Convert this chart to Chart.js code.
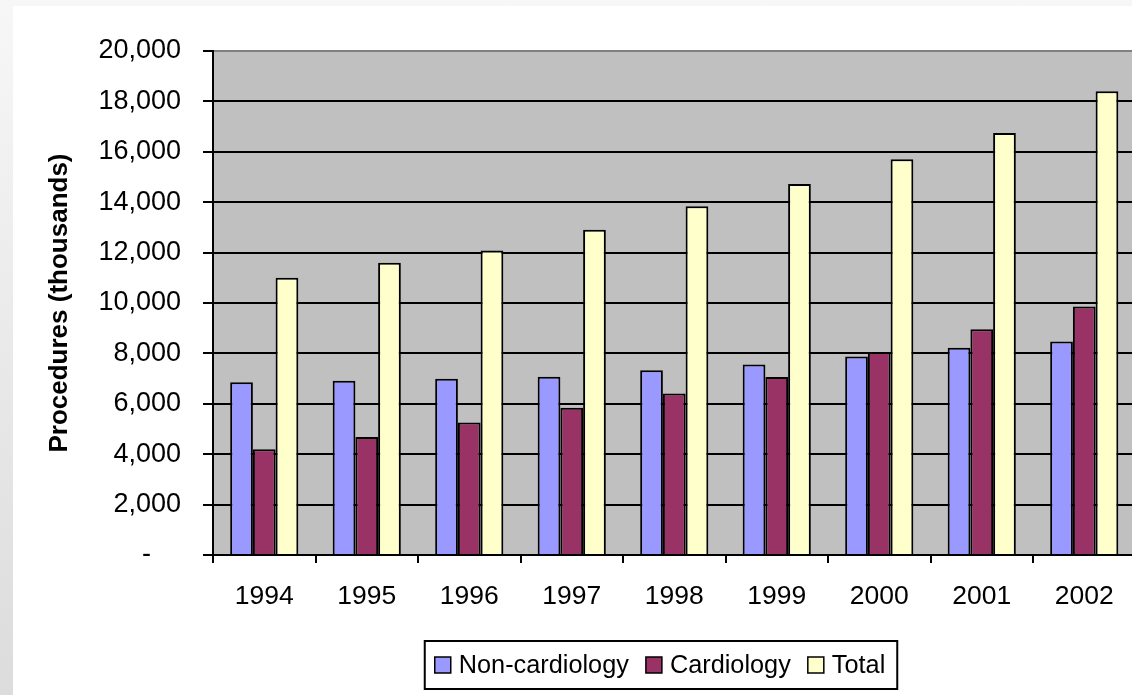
<!DOCTYPE html>
<html>
<head>
<meta charset="utf-8">
<script src="https://cdn.jsdelivr.net/npm/chart.js@4.4.1/dist/chart.umd.min.js"></script>
<style>
  html, body { margin: 0; padding: 0; width: 1132px; height: 695px; overflow: hidden; }
  body { background: linear-gradient(to bottom, #f7f7f7, #dcdcdc); position: relative; }
  #wrap { position: absolute; left: 13px; top: 6px; width: 1130px; height: 689px; background: #fff; }
</style>
</head>
<body>
<div id="wrap"><canvas id="chart" width="1130" height="689"></canvas></div>
<script>
const years = ['1994', '1995', '1996', '1997', '1998', '1999', '2000', '2001', '2002'];
const nonCardiology = [6860, 6910, 6990, 7070, 7330, 7560, 7880, 8220, 8470];
const cardiology = [4200, 4680, 5260, 5840, 6410, 7060, 8060, 8960, 9860];
const total = [11000, 11600, 12080, 12910, 13840, 14720, 15700, 16750, 18400];
const yTicks = [0, 2000, 4000, 6000, 8000, 10000, 12000, 14000, 16000, 18000, 20000];

const family = '"Liberation Sans", Arial, sans-serif';

// gray plot area behind the bars
const plotBg = {
  id: 'plotBg',
  beforeDraw(chart) {
    const { ctx, chartArea: a } = chart;
    ctx.save();
    ctx.fillStyle = '#c0c0c0';
    ctx.fillRect(a.left, a.top, a.right - a.left, a.bottom - a.top);
    ctx.restore();
  }
};

// Excel style legend: framed, small gap between swatch and text
const boxLegend = {
  id: 'boxLegend',
  afterDraw(chart) {
    const ctx = chart.ctx;
    const sets = chart.data.datasets;
    ctx.save();
    ctx.font = '25.3px ' + family;
    const widths = sets.map(ds => 24 + ctx.measureText(ds.label).width);
    const full = widths.reduce((s, w) => s + w, 0) + 17 * (sets.length - 1);
    const mid = 659;
    let x = 647 - full / 2;
    ctx.fillStyle = '#fff';
    ctx.fillRect(x - 10, mid - 24, full + 22, 48);
    ctx.strokeStyle = '#000';
    ctx.lineWidth = 2;
    ctx.strokeRect(x - 10, mid - 24, full + 22, 48);
    ctx.textBaseline = 'middle';
    sets.forEach((ds, i) => {
      ctx.fillStyle = ds.backgroundColor;
      ctx.fillRect(x, mid - 8, 16, 16);
      ctx.lineWidth = 1.5;
      ctx.strokeRect(x, mid - 8, 16, 16);
      ctx.fillStyle = '#000';
      ctx.fillText(ds.label, x + 24, mid + 1);
      x += widths[i] + 17;
    });
    ctx.restore();
  }
};

new Chart(document.getElementById('chart'), {
  type: 'bar',
  data: {
    labels: years,
    datasets: [
      { label: 'Non-cardiology', data: nonCardiology, backgroundColor: '#9999ff' },
      { label: 'Cardiology', data: cardiology, backgroundColor: '#993366' },
      { label: 'Total', data: total, backgroundColor: '#ffffcc' }
    ].map(ds => Object.assign(ds, { borderColor: '#000', borderWidth: 2, categoryPercentage: 0.665, barPercentage: 1 }))
  },
  options: {
    responsive: false,
    animation: false,
    layout: { padding: { top: 45, right: 7.5, bottom: 57, left: 0 } },
    scales: {
      x: {
        grid: { drawOnChartArea: false, drawTicks: true, tickLength: 8, color: '#000', lineWidth: 2 },
        border: { color: '#000', width: 2 },
        ticks: { color: '#000', font: { family: family, size: 26.5 }, padding: 18 },
        afterFit(scale) { scale.height = 83; }
      },
      y: {
        min: 0,
        max: 20000,
        afterBuildTicks(scale) { scale.ticks = yTicks.map(v => ({ value: v })); },
        grid: {
          color: ctx => ctx.tick && ctx.tick.value === 20000 ? '#808080' : '#000',
          tickColor: '#000',
          lineWidth: 2,
          tickLength: 10
        },
        border: { color: '#000', width: 2 },
        ticks: {
          color: '#000',
          font: { family: family, size: 27 },
          padding: 22,
          callback: v => v === 0 ? '-    ' : v.toLocaleString('en-US')
        },
        title: {
          display: true,
          text: 'Procedures (thousands)',
          color: '#000',
          font: { family: family, size: 26, weight: 'bold' },
          padding: { top: 31, bottom: 0 }
        },
        afterFit(scale) { scale.width = 200; }
      }
    },
    plugins: {
      legend: { display: false },
      tooltip: { enabled: false }
    }
  },
  plugins: [plotBg, boxLegend]
});
</script>
</body>
</html>
